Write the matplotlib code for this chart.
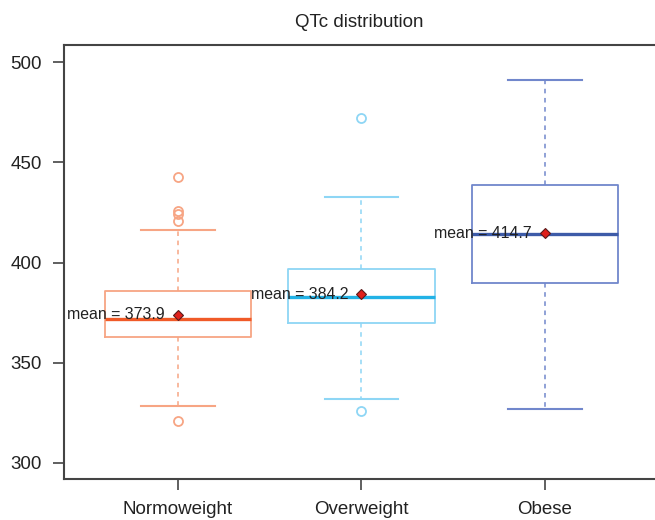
import matplotlib
matplotlib.use("Agg")
import matplotlib.pyplot as plt

# values
groups = ["Normoweight", "Overweight", "Obese"]
q1 = [362.7, 369.7, 389.6]
medians = [371.8, 382.6, 414.4]
q3 = [385.6, 397.0, 438.8]
whisker_low = [328.4, 331.8, 327.0]
whisker_high = [416.0, 432.8, 491.0]
outliers = [[442.8, 425.9, 424.4, 420.9, 320.9], [472.0, 326.0], []]
means = [373.9, 384.2, 414.7]

box_colors = ["#F7A584", "#8ED6F5", "#7187CC"]
median_colors = ["#F05A28", "#22B2E6", "#3D5BA8"]

plt.rcParams["font.family"] = ["Liberation Sans", "DejaVu Sans"]

fig = plt.figure(figsize=(6.55, 5.2), dpi=100)
ax = fig.add_axes([64 / 655, 1 - 479 / 520, 1 - 64 / 655, (479 - 45) / 520])

positions = list(range(1, len(groups) + 1))
for i, pos in enumerate(positions):
    stats = [{
        "med": medians[i], "q1": q1[i], "q3": q3[i],
        "whislo": whisker_low[i], "whishi": whisker_high[i],
        "fliers": outliers[i], "label": groups[i],
    }]
    c = box_colors[i]
    ax.bxp(stats, positions=[pos], widths=0.8, capwidths=0.4,
           boxprops=dict(color=c, linewidth=1.3),
           whiskerprops=dict(color=c, linewidth=1.1, linestyle=(0, (3, 3))),
           capprops=dict(color=c, linewidth=1.5),
           medianprops=dict(color=median_colors[i], linewidth=2.4),
           flierprops=dict(marker="o", markerfacecolor="none", markeredgecolor=c,
                           markersize=6.5, markeredgewidth=1.3))
    ax.plot(pos, means[i], marker="D", color="#E0201B", markeredgecolor="#5a1a1a",
            markersize=5.5, markeredgewidth=0.8, zorder=5)
    ax.text(pos - 0.07, means[i], f"mean = {means[i]}", ha="right", va="center",
            fontsize=11.4, color="#222222", zorder=6)

ax.set_xlim(0.379, 3.6)
ax.set_ylim(292, 508.5)
ax.set_xticks(positions)
ax.set_xticklabels(groups)
ax.set_yticks([300, 350, 400, 450, 500])
ax.tick_params(axis="both", labelsize=13.5, colors="#222222", length=8, width=1.2,
               color="#444444", pad=8)
ax.spines["right"].set_visible(False)
for s in ["left", "top", "bottom"]:
    ax.spines[s].set_color("#444444")
    ax.spines[s].set_linewidth(1.5)
ax.set_title("QTc distribution", fontsize=13.5, color="#222222", pad=13)

fig.savefig("out.png", dpi=100)
